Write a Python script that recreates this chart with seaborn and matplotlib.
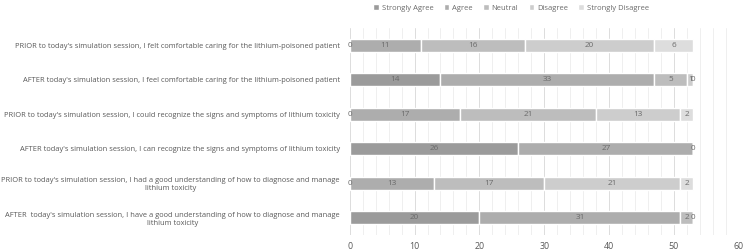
import matplotlib
matplotlib.use("Agg")
import matplotlib.pyplot as plt
from matplotlib.ticker import MultipleLocator
import seaborn as sns
import numpy as np
import pandas as pd

# survey statements (top to bottom)
statements = [
    "PRIOR to today's simulation session, I felt comfortable caring for the lithium-poisoned patient",
    "AFTER today's simulation session, I feel comfortable caring for the lithium-poisoned patient",
    "PRIOR to today's simulation session, I could recognize the signs and symptoms of lithium toxicity",
    "AFTER today's simulation session, I can recognize the signs and symptoms of lithium toxicity",
    "PRIOR to today's simulation session, I had a good understanding of how to diagnose and manage\nlithium toxicity",
    "AFTER  today's simulation session, I have a good understanding of how to diagnose and manage\nlithium toxicity",
]
responses = ["Strongly Agree", "Agree", "Neutral", "Disagree", "Strongly Disagree"]

strongly_agree = [0, 14, 0, 26, 0, 20]
agree = [11, 33, 17, 27, 13, 31]
neutral = [16, 5, 21, 0, 17, 2]
disagree = [20, 1, 13, np.nan, 21, 0]
strongly_disagree = [6, 0, 2, np.nan, 2, np.nan]

colors = ["#9b9b9b", "#adadad", "#bdbdbd", "#cdcdcd", "#dddddd"]

df = pd.DataFrame({
    "Strongly Agree": strongly_agree,
    "Agree": agree,
    "Neutral": neutral,
    "Disagree": disagree,
    "Strongly Disagree": strongly_disagree,
}, index=statements)

sns.set_theme(style="white")
plt.rcParams["font.family"] = ["Open Sans", "DejaVu Sans"]

fig, ax = plt.subplots(figsize=(7.44, 2.5), dpi=100)
fig.subplots_adjust(left=0.470, right=0.993, top=0.888, bottom=0.06)

ypos = np.arange(len(statements))
left = np.zeros(len(statements))
for resp, col in zip(responses, colors):
    vals = df[resp].values
    bars = ax.barh(ypos, np.nan_to_num(vals), left=left, height=0.38,
                   color=col, label=resp, zorder=3)
    labels = ["" if np.isnan(v) else f"{int(v)}" for v in vals]
    texts = ax.bar_label(bars, labels=labels, label_type="center",
                         fontsize=5.9, color="#6a6a6a")
    for t in texts:
        t.set_clip_on(False)
        t.set_zorder(6)
    left += np.nan_to_num(vals)

ax.set_yticks(ypos)
ax.set_yticklabels(statements, fontsize=5.4, color="#595959",
                   multialignment="center")
ax.set_ylim(5.5, -0.5)
ax.set_xlim(0, 60)
ax.xaxis.set_major_locator(MultipleLocator(10))
ax.xaxis.set_minor_locator(MultipleLocator(2))
ax.grid(axis="x", which="major", color="#dcdcdc", linewidth=0.7, zorder=0)
ax.grid(axis="x", which="minor", color="#efefef", linewidth=0.7, zorder=0)
ax.tick_params(axis="x", labelsize=6.4, labelcolor="#595959", length=0, pad=5)
ax.tick_params(axis="y", length=0, pad=7)
sns.despine(ax=ax, left=True, bottom=True)

fig.legend(loc="upper center", bbox_to_anchor=(0.687, 1.01), ncol=5,
           frameon=False, fontsize=5.5, labelcolor="#6a6a6a",
           handlelength=0.7, handleheight=0.7, handletextpad=0.4,
           columnspacing=1.35)

fig.savefig("out.png", dpi=100)
